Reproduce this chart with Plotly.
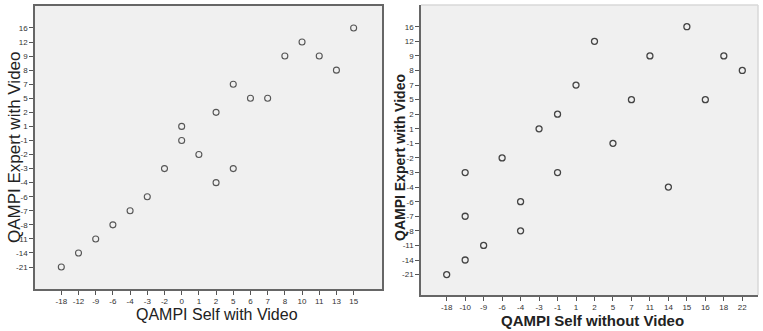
import plotly.graph_objects as go

# Category orders (as displayed on the axes)
left_x_cats = [-18, -12, -9, -6, -4, -3, -2, 0, 1, 2, 5, 6, 7, 8, 10, 11, 13, 15]
right_x_cats = [-18, -10, -9, -6, -4, -3, -1, 1, 2, 5, 7, 11, 14, 15, 16, 18, 22]
y_cats = [-21, -14, -11, -8, -7, -6, -4, -3, -2, -1, 1, 2, 5, 7, 8, 9, 12, 16]

# Left panel: Self with Video vs Expert with Video
self_with_video = [15, 10, 8, 11, 13, 5, 6, 7, 2, 0, 0, 1, -2, 5, 2, -3, -4, -6, -9, -12, -18]
expert_left = [16, 12, 9, 9, 8, 7, 5, 5, 2, 1, -1, -2, -3, -3, -4, -6, -7, -8, -11, -14, -21]

# Right panel: Self without Video vs Expert with Video
self_without_video = [15, 2, 11, 18, 22, 1, 7, 16, -1, -3, 5, -6, -10, -1, 14, -4, -10, -4, -9, -10, -18]
expert_right = [16, 12, 9, 9, 8, 7, 5, 5, 2, 1, -1, -2, -3, -3, -4, -6, -7, -8, -11, -14, -21]

W, H = 763, 331
def px_x(x): return x / W
def px_y(y): return (H - y) / H

s = lambda v: [str(a) for a in v]

fig = go.Figure()
fig.add_trace(go.Scatter(
    x=s(self_with_video), y=s(expert_left), mode="markers",
    marker=dict(symbol="circle-open", size=6, color="#555", line=dict(width=1.1)),
    xaxis="x", yaxis="y", showlegend=False))
fig.add_trace(go.Scatter(
    x=s(self_without_video), y=s(expert_right), mode="markers",
    marker=dict(symbol="circle-open", size=6, color="#444", line=dict(width=1.3)),
    xaxis="x2", yaxis="y2", showlegend=False))

tickfont = dict(family="Liberation Sans, Arial", size=8, color="#333")
common = dict(type="category", showgrid=False, zeroline=False, ticks="outside",
              ticklen=4, tickcolor="#555", tickwidth=1, showline=True,
              linecolor="#666", linewidth=1.5, tickfont=tickfont, fixedrange=True)

fig.update_layout(
    width=W, height=H, autosize=False,
    margin=dict(l=0, r=0, t=0, b=0),
    paper_bgcolor="white", plot_bgcolor="#f0f0f0",
    xaxis=dict(**common, domain=[px_x(35), px_x(382)], anchor="y",
               categoryorder="array", categoryarray=s(left_x_cats),
               range=[-1.53, 18.65], mirror=True),
    yaxis=dict(**common, domain=[px_y(289), px_y(6)], anchor="x",
               categoryorder="array", categoryarray=s(y_cats),
               range=[-1.56, 18.56], mirror=True),
    xaxis2=dict(**common, domain=[px_x(421), px_x(758)], anchor="y2",
                categoryorder="array", categoryarray=s(right_x_cats),
                range=[-1.39, 16.85]),
    yaxis2=dict(**common, domain=[px_y(295), px_y(5)], anchor="x2",
                categoryorder="array", categoryarray=s(y_cats),
                range=[-1.4, 18.49]),
    shapes=[
        dict(type="line", xref="x2 domain", yref="y2 domain", x0=0, x1=1, y0=1, y1=1,
             line=dict(color="#d8d8d8", width=1.5)),
        dict(type="line", xref="x2 domain", yref="y2 domain", x0=1, x1=1, y0=0, y1=1,
             line=dict(color="#d8d8d8", width=1.5)),
    ],
    annotations=[
        dict(text="QAMPI Self with Video", x=px_x(217), y=px_y(314), xref="paper", yref="paper",
             showarrow=False, xanchor="center", yanchor="middle",
             font=dict(family="Liberation Sans, Arial", size=16, color="#222")),
        dict(text="QAMPI Expert with Video", x=px_x(14), y=px_y(147), xref="paper", yref="paper",
             showarrow=False, xanchor="center", yanchor="middle", textangle=-90,
             font=dict(family="Liberation Sans, Arial", size=17, color="#222")),
        dict(text="<b>QAMPI Self without Video</b>", x=px_x(592), y=px_y(320), xref="paper", yref="paper",
             showarrow=False, xanchor="center", yanchor="middle",
             font=dict(family="Liberation Sans, Arial", size=15, color="#222")),
        dict(text="<b>QAMPI Expert with Video</b>", x=px_x(400), y=px_y(158), xref="paper", yref="paper",
             showarrow=False, xanchor="center", yanchor="middle", textangle=-90,
             font=dict(family="Liberation Sans, Arial", size=14, color="#222")),
    ],
)

fig.write_html("out.html", config={"displayModeBar": False},
               post_script="document.body.style.margin='0';document.body.style.padding='0';")
